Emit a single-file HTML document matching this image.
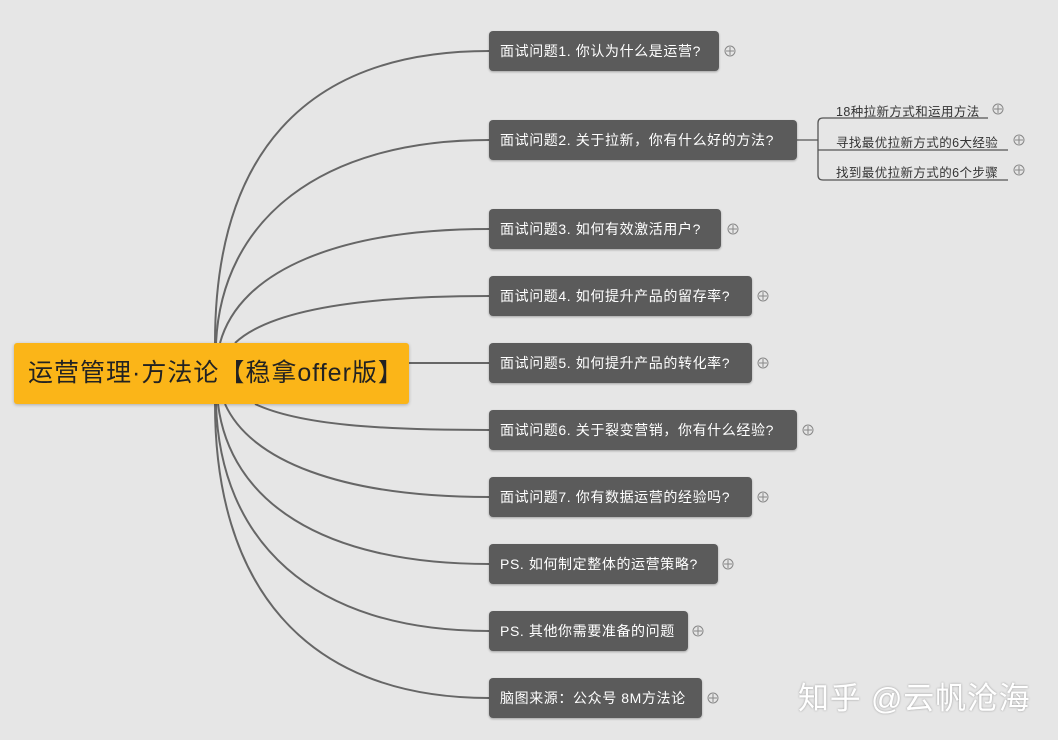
<!DOCTYPE html>
<html><head><meta charset="utf-8"><style>
body{margin:0;width:1058px;height:740px;background:#e6e6e6;overflow:hidden;position:relative;font-family:"Liberation Sans","Noto Sans CJK SC",sans-serif}
.n{position:absolute;left:489px;height:40px;line-height:40px;background:#5b5b5b;color:#fff;font-size:14px;letter-spacing:0.6px;border-radius:4px;padding-left:11px;box-sizing:border-box;box-shadow:0 1px 2px rgba(0,0,0,.3);white-space:nowrap}
.root{position:absolute;left:14px;top:343px;width:395px;height:61px;background:#fbb518;border-radius:3px;box-shadow:0 1px 3px rgba(0,0,0,.25);font-size:25px;letter-spacing:1px;line-height:61px;padding-left:14px;box-sizing:border-box;color:#222}
.s{position:absolute;font-size:12.5px;letter-spacing:0.4px;color:#333;left:836px;white-space:nowrap}
.wm{position:absolute;left:798px;top:673px;font-size:31px;letter-spacing:0.8px;color:#fff;text-shadow:0 0 2px rgba(0,0,0,.35)}
</style></head><body>
<svg width="1058" height="740" style="position:absolute;left:0;top:0" fill="none" stroke="#666" stroke-width="2">
<path d="M215 343 C215 160 300 51 489 51"/>
<path d="M216 343 C222 220 320 140 489 140"/>
<path d="M220 343 C240 270 340 229 489 229"/>
<path d="M235 343 C270 310 360 296 489 296"/>
<path d="M409 363 L489 363"/>
<path d="M255 404 C300 425 380 430 489 430"/>
<path d="M225 404 C250 460 340 497 489 497"/>
<path d="M218 404 C230 500 320 564 489 564"/>
<path d="M216 404 C220 540 310 631 489 631"/>
<path d="M215 404 C215 580 300 698 489 698"/>
<g stroke-width="1.3" stroke="#555">
<path d="M797 140 H818"/>
<path d="M988 118 H823 Q818 118 818 123 V175 Q818 180 823 180 H1008"/>
<path d="M818 150 H1008"/>
</g>
<g stroke="#888" stroke-width="1">
<circle cx="730" cy="51" r="5"/><path d="M726 51h8M730 47v8"/>
<circle cx="998" cy="109" r="5"/><path d="M994 109h8M998 105v8"/>
<circle cx="1019" cy="140" r="5"/><path d="M1015 140h8M1019 136v8"/>
<circle cx="1019" cy="170" r="5"/><path d="M1015 170h8M1019 166v8"/>
<circle cx="733" cy="229" r="5"/><path d="M729 229h8M733 225v8"/>
<circle cx="763" cy="296" r="5"/><path d="M759 296h8M763 292v8"/>
<circle cx="763" cy="363" r="5"/><path d="M759 363h8M763 359v8"/>
<circle cx="808" cy="430" r="5"/><path d="M804 430h8M808 426v8"/>
<circle cx="763" cy="497" r="5"/><path d="M759 497h8M763 493v8"/>
<circle cx="728" cy="564" r="5"/><path d="M724 564h8M728 560v8"/>
<circle cx="698" cy="631" r="5"/><path d="M694 631h8M698 627v8"/>
<circle cx="713" cy="698" r="5"/><path d="M709 698h8M713 694v8"/>
</g>
</svg>
<div class="root">运营管理·方法论【稳拿offer版】</div>
<div class="n" style="top:31px;width:230px">面试问题1. 你认为什么是运营?</div>
<div class="n" style="top:120px;width:308px">面试问题2. 关于拉新，你有什么好的方法?</div>
<div class="n" style="top:209px;width:232px">面试问题3. 如何有效激活用户?</div>
<div class="n" style="top:276px;width:263px">面试问题4. 如何提升产品的留存率?</div>
<div class="n" style="top:343px;width:263px">面试问题5. 如何提升产品的转化率?</div>
<div class="n" style="top:410px;width:308px">面试问题6. 关于裂变营销，你有什么经验?</div>
<div class="n" style="top:477px;width:263px">面试问题7. 你有数据运营的经验吗?</div>
<div class="n" style="top:544px;width:229px">PS. 如何制定整体的运营策略?</div>
<div class="n" style="top:611px;width:199px">PS. 其他你需要准备的问题</div>
<div class="n" style="top:678px;width:213px">脑图来源：公众号 8M方法论</div>
<div class="s" style="top:101px">18种拉新方式和运用方法</div>
<div class="s" style="top:132px">寻找最优拉新方式的6大经验</div>
<div class="s" style="top:162px">找到最优拉新方式的6个步骤</div>
<div class="wm">知乎 @云帆沧海</div>
</body></html>
